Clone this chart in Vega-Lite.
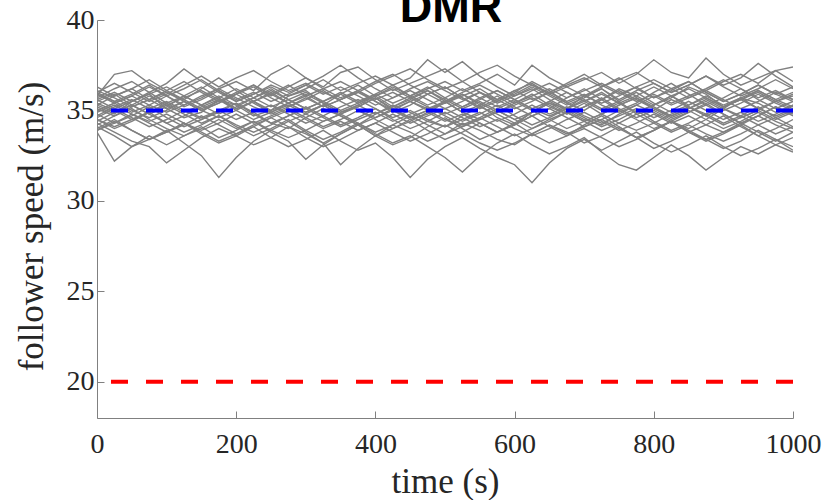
{
"$schema":"https://vega.github.io/schema/vega-lite/v6.json",
"width":696,"height":398,
"autosize":"none",
"padding":{"left":97,"top":20,"right":34,"bottom":82},
"title":{"text":"DMR","font":"Liberation Sans","fontSize":45,"fontWeight":"bold","color":"#000000","anchor":"middle","baseline":"alphabetic","frame":"group","offset":-61,"dx":6},
"config":{"view":{"stroke":null},
"axis":{"grid":false,"labelFont":"Liberation Serif","labelFontSize":28,"labelColor":"#262626","titleFont":"Liberation Serif","titleFontSize":35,"titleFontWeight":"normal","titleColor":"#262626","domainColor":"#808080","tickColor":"#808080","tickSize":-7,"domainWidth":1,"tickWidth":1}},
"datasets":{"runs":[
{"r":1,"t":0,"v":35.2},{"r":1,"t":25,"v":34.8},{"r":1,"t":50,"v":35.5},{"r":1,"t":75,"v":35.9},{"r":1,"t":100,"v":35.1},{"r":1,"t":125,"v":34.6},{"r":1,"t":150,"v":34.9},{"r":1,"t":175,"v":35.6},{"r":1,"t":200,"v":35.3},{"r":1,"t":225,"v":34.7},{"r":1,"t":250,"v":35.0},{"r":1,"t":275,"v":35.8},{"r":1,"t":300,"v":36.1},{"r":1,"t":325,"v":35.4},{"r":1,"t":350,"v":34.9},{"r":1,"t":375,"v":35.2},{"r":1,"t":400,"v":35.7},{"r":1,"t":425,"v":35.0},{"r":1,"t":450,"v":34.5},{"r":1,"t":475,"v":34.8},{"r":1,"t":500,"v":35.5},{"r":1,"t":525,"v":35.9},{"r":1,"t":550,"v":35.3},{"r":1,"t":575,"v":34.6},{"r":1,"t":600,"v":34.2},{"r":1,"t":625,"v":34.9},{"r":1,"t":650,"v":35.4},{"r":1,"t":675,"v":35.1},{"r":1,"t":700,"v":35.8},{"r":1,"t":725,"v":36.2},{"r":1,"t":750,"v":35.5},{"r":1,"t":775,"v":34.8},{"r":1,"t":800,"v":35.0},{"r":1,"t":825,"v":35.6},{"r":1,"t":850,"v":35.2},{"r":1,"t":875,"v":34.7},{"r":1,"t":900,"v":35.1},{"r":1,"t":925,"v":35.7},{"r":1,"t":950,"v":35.4},{"r":1,"t":975,"v":34.9},{"r":1,"t":1000,"v":35.3},
{"r":2,"t":0,"v":35.8},{"r":2,"t":25,"v":37.0},{"r":2,"t":50,"v":37.2},{"r":2,"t":75,"v":36.5},{"r":2,"t":100,"v":36.0},{"r":2,"t":125,"v":35.6},{"r":2,"t":150,"v":36.2},{"r":2,"t":175,"v":36.8},{"r":2,"t":200,"v":36.1},{"r":2,"t":225,"v":35.5},{"r":2,"t":250,"v":35.9},{"r":2,"t":275,"v":36.4},{"r":2,"t":300,"v":35.8},{"r":2,"t":325,"v":35.2},{"r":2,"t":350,"v":35.6},{"r":2,"t":375,"v":36.1},{"r":2,"t":400,"v":35.5},{"r":2,"t":425,"v":34.9},{"r":2,"t":450,"v":35.3},{"r":2,"t":475,"v":35.9},{"r":2,"t":500,"v":36.3},{"r":2,"t":525,"v":35.7},{"r":2,"t":550,"v":35.1},{"r":2,"t":575,"v":35.5},{"r":2,"t":600,"v":36.0},{"r":2,"t":625,"v":36.6},{"r":2,"t":650,"v":36.1},{"r":2,"t":675,"v":35.4},{"r":2,"t":700,"v":35.0},{"r":2,"t":725,"v":35.6},{"r":2,"t":750,"v":36.2},{"r":2,"t":775,"v":35.8},{"r":2,"t":800,"v":35.3},{"r":2,"t":825,"v":35.7},{"r":2,"t":850,"v":36.3},{"r":2,"t":875,"v":35.9},{"r":2,"t":900,"v":35.2},{"r":2,"t":925,"v":35.6},{"r":2,"t":950,"v":36.0},{"r":2,"t":975,"v":35.5},{"r":2,"t":1000,"v":35.8},
{"r":3,"t":0,"v":34.1},{"r":3,"t":25,"v":33.6},{"r":3,"t":50,"v":33.0},{"r":3,"t":75,"v":33.4},{"r":3,"t":100,"v":33.9},{"r":3,"t":125,"v":33.2},{"r":3,"t":150,"v":32.5},{"r":3,"t":175,"v":31.3},{"r":3,"t":200,"v":32.4},{"r":3,"t":225,"v":33.3},{"r":3,"t":250,"v":33.9},{"r":3,"t":275,"v":34.4},{"r":3,"t":300,"v":33.8},{"r":3,"t":325,"v":33.2},{"r":3,"t":350,"v":33.7},{"r":3,"t":375,"v":34.2},{"r":3,"t":400,"v":33.6},{"r":3,"t":425,"v":33.1},{"r":3,"t":450,"v":33.5},{"r":3,"t":475,"v":34.1},{"r":3,"t":500,"v":34.6},{"r":3,"t":525,"v":34.0},{"r":3,"t":550,"v":33.4},{"r":3,"t":575,"v":33.8},{"r":3,"t":600,"v":34.3},{"r":3,"t":625,"v":33.7},{"r":3,"t":650,"v":33.2},{"r":3,"t":675,"v":33.6},{"r":3,"t":700,"v":34.2},{"r":3,"t":725,"v":34.7},{"r":3,"t":750,"v":34.1},{"r":3,"t":775,"v":33.5},{"r":3,"t":800,"v":33.9},{"r":3,"t":825,"v":34.4},{"r":3,"t":850,"v":33.8},{"r":3,"t":875,"v":33.3},{"r":3,"t":900,"v":33.7},{"r":3,"t":925,"v":34.2},{"r":3,"t":950,"v":33.6},{"r":3,"t":975,"v":33.1},{"r":3,"t":1000,"v":33.5},
{"r":4,"t":0,"v":34.8},{"r":4,"t":25,"v":34.3},{"r":4,"t":50,"v":34.7},{"r":4,"t":75,"v":35.2},{"r":4,"t":100,"v":34.6},{"r":4,"t":125,"v":34.1},{"r":4,"t":150,"v":34.5},{"r":4,"t":175,"v":35.0},{"r":4,"t":200,"v":35.4},{"r":4,"t":225,"v":34.9},{"r":4,"t":250,"v":34.3},{"r":4,"t":275,"v":34.0},{"r":4,"t":300,"v":34.6},{"r":4,"t":325,"v":35.1},{"r":4,"t":350,"v":34.7},{"r":4,"t":375,"v":34.2},{"r":4,"t":400,"v":34.8},{"r":4,"t":425,"v":35.3},{"r":4,"t":450,"v":34.9},{"r":4,"t":475,"v":34.4},{"r":4,"t":500,"v":34.1},{"r":4,"t":525,"v":34.7},{"r":4,"t":550,"v":35.2},{"r":4,"t":575,"v":34.8},{"r":4,"t":600,"v":34.3},{"r":4,"t":625,"v":34.9},{"r":4,"t":650,"v":35.5},{"r":4,"t":675,"v":35.0},{"r":4,"t":700,"v":34.5},{"r":4,"t":725,"v":34.2},{"r":4,"t":750,"v":34.8},{"r":4,"t":775,"v":35.3},{"r":4,"t":800,"v":34.9},{"r":4,"t":825,"v":34.4},{"r":4,"t":850,"v":34.0},{"r":4,"t":875,"v":34.5},{"r":4,"t":900,"v":35.1},{"r":4,"t":925,"v":34.7},{"r":4,"t":950,"v":34.2},{"r":4,"t":975,"v":34.6},{"r":4,"t":1000,"v":35.0},
{"r":5,"t":0,"v":36.0},{"r":5,"t":25,"v":35.5},{"r":5,"t":50,"v":35.9},{"r":5,"t":75,"v":36.4},{"r":5,"t":100,"v":35.8},{"r":5,"t":125,"v":35.3},{"r":5,"t":150,"v":35.7},{"r":5,"t":175,"v":36.2},{"r":5,"t":200,"v":36.6},{"r":5,"t":225,"v":36.1},{"r":5,"t":250,"v":37.0},{"r":5,"t":275,"v":37.5},{"r":5,"t":300,"v":36.8},{"r":5,"t":325,"v":36.3},{"r":5,"t":350,"v":37.1},{"r":5,"t":375,"v":37.4},{"r":5,"t":400,"v":36.7},{"r":5,"t":425,"v":36.1},{"r":5,"t":450,"v":36.5},{"r":5,"t":475,"v":36.9},{"r":5,"t":500,"v":37.3},{"r":5,"t":525,"v":36.6},{"r":5,"t":550,"v":36.0},{"r":5,"t":575,"v":35.6},{"r":5,"t":600,"v":36.1},{"r":5,"t":625,"v":36.5},{"r":5,"t":650,"v":35.9},{"r":5,"t":675,"v":35.4},{"r":5,"t":700,"v":35.8},{"r":5,"t":725,"v":36.3},{"r":5,"t":750,"v":36.8},{"r":5,"t":775,"v":36.2},{"r":5,"t":800,"v":35.7},{"r":5,"t":825,"v":36.1},{"r":5,"t":850,"v":36.6},{"r":5,"t":875,"v":36.0},{"r":5,"t":900,"v":35.5},{"r":5,"t":925,"v":35.9},{"r":5,"t":950,"v":36.4},{"r":5,"t":975,"v":35.9},{"r":5,"t":1000,"v":36.3},
{"r":6,"t":0,"v":34.3},{"r":6,"t":25,"v":33.8},{"r":6,"t":50,"v":33.3},{"r":6,"t":75,"v":33.0},{"r":6,"t":100,"v":32.1},{"r":6,"t":125,"v":32.8},{"r":6,"t":150,"v":33.5},{"r":6,"t":175,"v":34.0},{"r":6,"t":200,"v":33.6},{"r":6,"t":225,"v":33.1},{"r":6,"t":250,"v":33.5},{"r":6,"t":275,"v":34.1},{"r":6,"t":300,"v":33.7},{"r":6,"t":325,"v":33.2},{"r":6,"t":350,"v":32.0},{"r":6,"t":375,"v":32.9},{"r":6,"t":400,"v":33.6},{"r":6,"t":425,"v":34.2},{"r":6,"t":450,"v":33.8},{"r":6,"t":475,"v":33.3},{"r":6,"t":500,"v":33.7},{"r":6,"t":525,"v":34.3},{"r":6,"t":550,"v":33.9},{"r":6,"t":575,"v":33.4},{"r":6,"t":600,"v":33.1},{"r":6,"t":625,"v":33.7},{"r":6,"t":650,"v":34.2},{"r":6,"t":675,"v":33.8},{"r":6,"t":700,"v":33.2},{"r":6,"t":725,"v":33.6},{"r":6,"t":750,"v":34.1},{"r":6,"t":775,"v":33.5},{"r":6,"t":800,"v":32.9},{"r":6,"t":825,"v":33.3},{"r":6,"t":850,"v":33.8},{"r":6,"t":875,"v":33.4},{"r":6,"t":900,"v":32.9},{"r":6,"t":925,"v":33.3},{"r":6,"t":950,"v":33.9},{"r":6,"t":975,"v":33.4},{"r":6,"t":1000,"v":33.0},
{"r":7,"t":0,"v":35.5},{"r":7,"t":25,"v":35.9},{"r":7,"t":50,"v":35.3},{"r":7,"t":75,"v":34.8},{"r":7,"t":100,"v":35.2},{"r":7,"t":125,"v":35.8},{"r":7,"t":150,"v":36.3},{"r":7,"t":175,"v":35.7},{"r":7,"t":200,"v":35.1},{"r":7,"t":225,"v":35.5},{"r":7,"t":250,"v":36.0},{"r":7,"t":275,"v":35.4},{"r":7,"t":300,"v":34.9},{"r":7,"t":325,"v":35.3},{"r":7,"t":350,"v":35.9},{"r":7,"t":375,"v":36.4},{"r":7,"t":400,"v":35.8},{"r":7,"t":425,"v":35.2},{"r":7,"t":450,"v":35.6},{"r":7,"t":475,"v":36.1},{"r":7,"t":500,"v":35.5},{"r":7,"t":525,"v":34.9},{"r":7,"t":550,"v":35.3},{"r":7,"t":575,"v":35.8},{"r":7,"t":600,"v":35.2},{"r":7,"t":625,"v":34.7},{"r":7,"t":650,"v":35.1},{"r":7,"t":675,"v":35.7},{"r":7,"t":700,"v":36.2},{"r":7,"t":725,"v":35.6},{"r":7,"t":750,"v":35.0},{"r":7,"t":775,"v":35.4},{"r":7,"t":800,"v":36.0},{"r":7,"t":825,"v":36.5},{"r":7,"t":850,"v":35.9},{"r":7,"t":875,"v":35.3},{"r":7,"t":900,"v":35.7},{"r":7,"t":925,"v":36.2},{"r":7,"t":950,"v":35.6},{"r":7,"t":975,"v":35.1},{"r":7,"t":1000,"v":35.5},
{"r":8,"t":0,"v":35.0},{"r":8,"t":25,"v":35.4},{"r":8,"t":50,"v":34.9},{"r":8,"t":75,"v":35.3},{"r":8,"t":100,"v":35.8},{"r":8,"t":125,"v":35.2},{"r":8,"t":150,"v":35.6},{"r":8,"t":175,"v":36.1},{"r":8,"t":200,"v":35.5},{"r":8,"t":225,"v":35.9},{"r":8,"t":250,"v":36.3},{"r":8,"t":275,"v":35.8},{"r":8,"t":300,"v":36.2},{"r":8,"t":325,"v":36.7},{"r":8,"t":350,"v":36.1},{"r":8,"t":375,"v":36.5},{"r":8,"t":400,"v":36.9},{"r":8,"t":425,"v":36.4},{"r":8,"t":450,"v":36.8},{"r":8,"t":475,"v":37.8},{"r":8,"t":500,"v":37.1},{"r":8,"t":525,"v":37.7},{"r":8,"t":550,"v":36.9},{"r":8,"t":575,"v":36.3},{"r":8,"t":600,"v":35.8},{"r":8,"t":625,"v":36.2},{"r":8,"t":650,"v":35.6},{"r":8,"t":675,"v":35.1},{"r":8,"t":700,"v":35.5},{"r":8,"t":725,"v":36.0},{"r":8,"t":750,"v":35.4},{"r":8,"t":775,"v":34.9},{"r":8,"t":800,"v":35.3},{"r":8,"t":825,"v":35.8},{"r":8,"t":850,"v":35.2},{"r":8,"t":875,"v":34.8},{"r":8,"t":900,"v":35.2},{"r":8,"t":925,"v":35.7},{"r":8,"t":950,"v":35.1},{"r":8,"t":975,"v":34.7},{"r":8,"t":1000,"v":35.1},
{"r":9,"t":0,"v":34.0},{"r":9,"t":25,"v":34.5},{"r":9,"t":50,"v":33.9},{"r":9,"t":75,"v":33.4},{"r":9,"t":100,"v":33.8},{"r":9,"t":125,"v":34.3},{"r":9,"t":150,"v":33.7},{"r":9,"t":175,"v":33.2},{"r":9,"t":200,"v":33.6},{"r":9,"t":225,"v":34.1},{"r":9,"t":250,"v":33.5},{"r":9,"t":275,"v":33.0},{"r":9,"t":300,"v":33.4},{"r":9,"t":325,"v":33.9},{"r":9,"t":350,"v":33.3},{"r":9,"t":375,"v":32.8},{"r":9,"t":400,"v":33.2},{"r":9,"t":425,"v":32.4},{"r":9,"t":450,"v":31.3},{"r":9,"t":475,"v":32.3},{"r":9,"t":500,"v":33.0},{"r":9,"t":525,"v":33.5},{"r":9,"t":550,"v":32.9},{"r":9,"t":575,"v":32.4},{"r":9,"t":600,"v":32.0},{"r":9,"t":625,"v":31.0},{"r":9,"t":650,"v":32.1},{"r":9,"t":675,"v":32.9},{"r":9,"t":700,"v":33.4},{"r":9,"t":725,"v":32.8},{"r":9,"t":750,"v":33.3},{"r":9,"t":775,"v":33.8},{"r":9,"t":800,"v":33.2},{"r":9,"t":825,"v":32.7},{"r":9,"t":850,"v":33.1},{"r":9,"t":875,"v":33.6},{"r":9,"t":900,"v":33.0},{"r":9,"t":925,"v":32.5},{"r":9,"t":950,"v":32.9},{"r":9,"t":975,"v":33.4},{"r":9,"t":1000,"v":32.8},
{"r":10,"t":0,"v":35.6},{"r":10,"t":25,"v":35.1},{"r":10,"t":50,"v":35.5},{"r":10,"t":75,"v":36.0},{"r":10,"t":100,"v":35.4},{"r":10,"t":125,"v":34.9},{"r":10,"t":150,"v":35.3},{"r":10,"t":175,"v":35.8},{"r":10,"t":200,"v":35.3},{"r":10,"t":225,"v":35.7},{"r":10,"t":250,"v":36.2},{"r":10,"t":275,"v":35.6},{"r":10,"t":300,"v":35.1},{"r":10,"t":325,"v":35.5},{"r":10,"t":350,"v":36.0},{"r":10,"t":375,"v":35.5},{"r":10,"t":400,"v":35.9},{"r":10,"t":425,"v":36.4},{"r":10,"t":450,"v":35.8},{"r":10,"t":475,"v":36.2},{"r":10,"t":500,"v":36.6},{"r":10,"t":525,"v":36.1},{"r":10,"t":550,"v":36.5},{"r":10,"t":575,"v":37.0},{"r":10,"t":600,"v":36.4},{"r":10,"t":625,"v":37.5},{"r":10,"t":650,"v":36.8},{"r":10,"t":675,"v":36.3},{"r":10,"t":700,"v":36.7},{"r":10,"t":725,"v":37.1},{"r":10,"t":750,"v":36.5},{"r":10,"t":775,"v":37.0},{"r":10,"t":800,"v":37.8},{"r":10,"t":825,"v":37.1},{"r":10,"t":850,"v":36.8},{"r":10,"t":875,"v":37.9},{"r":10,"t":900,"v":37.0},{"r":10,"t":925,"v":36.4},{"r":10,"t":950,"v":36.8},{"r":10,"t":975,"v":37.2},{"r":10,"t":1000,"v":36.6},
{"r":11,"t":0,"v":34.5},{"r":11,"t":25,"v":34.0},{"r":11,"t":50,"v":34.4},{"r":11,"t":75,"v":34.9},{"r":11,"t":100,"v":34.3},{"r":11,"t":125,"v":33.8},{"r":11,"t":150,"v":34.2},{"r":11,"t":175,"v":34.7},{"r":11,"t":200,"v":34.1},{"r":11,"t":225,"v":33.6},{"r":11,"t":250,"v":34.0},{"r":11,"t":275,"v":34.5},{"r":11,"t":300,"v":33.9},{"r":11,"t":325,"v":33.4},{"r":11,"t":350,"v":33.8},{"r":11,"t":375,"v":34.3},{"r":11,"t":400,"v":33.7},{"r":11,"t":425,"v":33.2},{"r":11,"t":450,"v":33.6},{"r":11,"t":475,"v":33.0},{"r":11,"t":500,"v":32.4},{"r":11,"t":525,"v":31.6},{"r":11,"t":550,"v":32.5},{"r":11,"t":575,"v":33.2},{"r":11,"t":600,"v":33.7},{"r":11,"t":625,"v":33.1},{"r":11,"t":650,"v":32.6},{"r":11,"t":675,"v":33.0},{"r":11,"t":700,"v":33.5},{"r":11,"t":725,"v":32.7},{"r":11,"t":750,"v":32.0},{"r":11,"t":775,"v":31.7},{"r":11,"t":800,"v":32.4},{"r":11,"t":825,"v":33.1},{"r":11,"t":850,"v":32.5},{"r":11,"t":875,"v":31.7},{"r":11,"t":900,"v":32.4},{"r":11,"t":925,"v":33.0},{"r":11,"t":950,"v":32.6},{"r":11,"t":975,"v":33.1},{"r":11,"t":1000,"v":32.7},
{"r":12,"t":0,"v":35.3},{"r":12,"t":25,"v":35.8},{"r":12,"t":50,"v":36.2},{"r":12,"t":75,"v":35.6},{"r":12,"t":100,"v":35.1},{"r":12,"t":125,"v":35.5},{"r":12,"t":150,"v":35.0},{"r":12,"t":175,"v":34.6},{"r":12,"t":200,"v":35.0},{"r":12,"t":225,"v":35.5},{"r":12,"t":250,"v":34.9},{"r":12,"t":275,"v":34.4},{"r":12,"t":300,"v":34.8},{"r":12,"t":325,"v":35.3},{"r":12,"t":350,"v":34.8},{"r":12,"t":375,"v":35.2},{"r":12,"t":400,"v":35.7},{"r":12,"t":425,"v":35.1},{"r":12,"t":450,"v":34.6},{"r":12,"t":475,"v":35.0},{"r":12,"t":500,"v":35.5},{"r":12,"t":525,"v":34.9},{"r":12,"t":550,"v":34.5},{"r":12,"t":575,"v":34.9},{"r":12,"t":600,"v":35.4},{"r":12,"t":625,"v":35.9},{"r":12,"t":650,"v":35.3},{"r":12,"t":675,"v":34.8},{"r":12,"t":700,"v":35.2},{"r":12,"t":725,"v":35.7},{"r":12,"t":750,"v":35.1},{"r":12,"t":775,"v":34.6},{"r":12,"t":800,"v":35.0},{"r":12,"t":825,"v":34.5},{"r":12,"t":850,"v":34.9},{"r":12,"t":875,"v":35.4},{"r":12,"t":900,"v":34.8},{"r":12,"t":925,"v":34.3},{"r":12,"t":950,"v":34.7},{"r":12,"t":975,"v":35.2},{"r":12,"t":1000,"v":34.8},
{"r":13,"t":0,"v":36.3},{"r":13,"t":25,"v":35.8},{"r":13,"t":50,"v":36.2},{"r":13,"t":75,"v":36.7},{"r":13,"t":100,"v":36.1},{"r":13,"t":125,"v":36.6},{"r":13,"t":150,"v":36.0},{"r":13,"t":175,"v":35.5},{"r":13,"t":200,"v":35.9},{"r":13,"t":225,"v":36.4},{"r":13,"t":250,"v":35.8},{"r":13,"t":275,"v":36.3},{"r":13,"t":300,"v":36.8},{"r":13,"t":325,"v":36.2},{"r":13,"t":350,"v":35.7},{"r":13,"t":375,"v":36.1},{"r":13,"t":400,"v":36.6},{"r":13,"t":425,"v":37.0},{"r":13,"t":450,"v":36.4},{"r":13,"t":475,"v":35.9},{"r":13,"t":500,"v":36.3},{"r":13,"t":525,"v":35.7},{"r":13,"t":550,"v":35.2},{"r":13,"t":575,"v":35.6},{"r":13,"t":600,"v":36.1},{"r":13,"t":625,"v":35.6},{"r":13,"t":650,"v":36.0},{"r":13,"t":675,"v":36.5},{"r":13,"t":700,"v":37.0},{"r":13,"t":725,"v":36.4},{"r":13,"t":750,"v":35.9},{"r":13,"t":775,"v":36.3},{"r":13,"t":800,"v":36.7},{"r":13,"t":825,"v":36.2},{"r":13,"t":850,"v":35.7},{"r":13,"t":875,"v":36.1},{"r":13,"t":900,"v":36.6},{"r":13,"t":925,"v":37.0},{"r":13,"t":950,"v":36.5},{"r":13,"t":975,"v":37.2},{"r":13,"t":1000,"v":37.4},
{"r":14,"t":0,"v":34.6},{"r":14,"t":25,"v":35.1},{"r":14,"t":50,"v":34.6},{"r":14,"t":75,"v":34.1},{"r":14,"t":100,"v":34.5},{"r":14,"t":125,"v":35.0},{"r":14,"t":150,"v":34.5},{"r":14,"t":175,"v":34.9},{"r":14,"t":200,"v":35.4},{"r":14,"t":225,"v":34.8},{"r":14,"t":250,"v":34.3},{"r":14,"t":275,"v":34.7},{"r":14,"t":300,"v":35.2},{"r":14,"t":325,"v":34.7},{"r":14,"t":350,"v":34.2},{"r":14,"t":375,"v":34.6},{"r":14,"t":400,"v":35.1},{"r":14,"t":425,"v":34.5},{"r":14,"t":450,"v":34.0},{"r":14,"t":475,"v":34.4},{"r":14,"t":500,"v":34.9},{"r":14,"t":525,"v":34.4},{"r":14,"t":550,"v":34.8},{"r":14,"t":575,"v":35.3},{"r":14,"t":600,"v":34.7},{"r":14,"t":625,"v":34.2},{"r":14,"t":650,"v":34.6},{"r":14,"t":675,"v":35.1},{"r":14,"t":700,"v":34.6},{"r":14,"t":725,"v":34.1},{"r":14,"t":750,"v":34.5},{"r":14,"t":775,"v":35.0},{"r":14,"t":800,"v":34.4},{"r":14,"t":825,"v":33.9},{"r":14,"t":850,"v":34.3},{"r":14,"t":875,"v":34.8},{"r":14,"t":900,"v":34.3},{"r":14,"t":925,"v":34.7},{"r":14,"t":950,"v":35.2},{"r":14,"t":975,"v":34.6},{"r":14,"t":1000,"v":34.1},
{"r":15,"t":0,"v":35.7},{"r":15,"t":25,"v":36.2},{"r":15,"t":50,"v":36.6},{"r":15,"t":75,"v":36.0},{"r":15,"t":100,"v":36.5},{"r":15,"t":125,"v":37.3},{"r":15,"t":150,"v":36.6},{"r":15,"t":175,"v":36.0},{"r":15,"t":200,"v":35.5},{"r":15,"t":225,"v":35.9},{"r":15,"t":250,"v":36.4},{"r":15,"t":275,"v":36.0},{"r":15,"t":300,"v":36.4},{"r":15,"t":325,"v":36.9},{"r":15,"t":350,"v":37.5},{"r":15,"t":375,"v":36.8},{"r":15,"t":400,"v":36.2},{"r":15,"t":425,"v":35.7},{"r":15,"t":450,"v":36.1},{"r":15,"t":475,"v":35.6},{"r":15,"t":500,"v":35.1},{"r":15,"t":525,"v":35.5},{"r":15,"t":550,"v":36.0},{"r":15,"t":575,"v":35.4},{"r":15,"t":600,"v":35.8},{"r":15,"t":625,"v":36.3},{"r":15,"t":650,"v":35.8},{"r":15,"t":675,"v":35.3},{"r":15,"t":700,"v":35.7},{"r":15,"t":725,"v":36.2},{"r":15,"t":750,"v":35.6},{"r":15,"t":775,"v":36.1},{"r":15,"t":800,"v":36.5},{"r":15,"t":825,"v":36.0},{"r":15,"t":850,"v":36.4},{"r":15,"t":875,"v":36.9},{"r":15,"t":900,"v":36.4},{"r":15,"t":925,"v":36.8},{"r":15,"t":950,"v":37.6},{"r":15,"t":975,"v":36.9},{"r":15,"t":1000,"v":36.3},
{"r":16,"t":0,"v":33.8},{"r":16,"t":25,"v":32.2},{"r":16,"t":50,"v":33.0},{"r":16,"t":75,"v":33.6},{"r":16,"t":100,"v":33.1},{"r":16,"t":125,"v":33.6},{"r":16,"t":150,"v":34.1},{"r":16,"t":175,"v":33.5},{"r":16,"t":200,"v":33.9},{"r":16,"t":225,"v":34.4},{"r":16,"t":250,"v":33.8},{"r":16,"t":275,"v":33.3},{"r":16,"t":300,"v":32.3},{"r":16,"t":325,"v":33.1},{"r":16,"t":350,"v":33.7},{"r":16,"t":375,"v":34.2},{"r":16,"t":400,"v":33.6},{"r":16,"t":425,"v":34.0},{"r":16,"t":450,"v":34.5},{"r":16,"t":475,"v":33.9},{"r":16,"t":500,"v":33.4},{"r":16,"t":525,"v":33.8},{"r":16,"t":550,"v":34.3},{"r":16,"t":575,"v":33.8},{"r":16,"t":600,"v":34.2},{"r":16,"t":625,"v":34.7},{"r":16,"t":650,"v":34.1},{"r":16,"t":675,"v":33.6},{"r":16,"t":700,"v":34.0},{"r":16,"t":725,"v":33.5},{"r":16,"t":750,"v":33.0},{"r":16,"t":775,"v":33.4},{"r":16,"t":800,"v":33.9},{"r":16,"t":825,"v":34.4},{"r":16,"t":850,"v":33.8},{"r":16,"t":875,"v":34.2},{"r":16,"t":900,"v":34.7},{"r":16,"t":925,"v":34.1},{"r":16,"t":950,"v":33.6},{"r":16,"t":975,"v":34.0},{"r":16,"t":1000,"v":34.5},
{"r":17,"t":0,"v":35.1},{"r":17,"t":25,"v":34.7},{"r":17,"t":50,"v":35.2},{"r":17,"t":75,"v":35.6},{"r":17,"t":100,"v":36.0},{"r":17,"t":125,"v":35.5},{"r":17,"t":150,"v":35.0},{"r":17,"t":175,"v":35.4},{"r":17,"t":200,"v":35.9},{"r":17,"t":225,"v":36.3},{"r":17,"t":250,"v":35.7},{"r":17,"t":275,"v":35.2},{"r":17,"t":300,"v":35.6},{"r":17,"t":325,"v":36.1},{"r":17,"t":350,"v":35.5},{"r":17,"t":375,"v":35.0},{"r":17,"t":400,"v":34.6},{"r":17,"t":425,"v":35.0},{"r":17,"t":450,"v":35.5},{"r":17,"t":475,"v":35.9},{"r":17,"t":500,"v":35.4},{"r":17,"t":525,"v":35.8},{"r":17,"t":550,"v":36.2},{"r":17,"t":575,"v":35.6},{"r":17,"t":600,"v":35.1},{"r":17,"t":625,"v":35.5},{"r":17,"t":650,"v":36.0},{"r":17,"t":675,"v":35.5},{"r":17,"t":700,"v":35.9},{"r":17,"t":725,"v":35.3},{"r":17,"t":750,"v":34.9},{"r":17,"t":775,"v":35.3},{"r":17,"t":800,"v":35.8},{"r":17,"t":825,"v":35.3},{"r":17,"t":850,"v":35.7},{"r":17,"t":875,"v":36.1},{"r":17,"t":900,"v":35.6},{"r":17,"t":925,"v":35.1},{"r":17,"t":950,"v":35.5},{"r":17,"t":975,"v":36.0},{"r":17,"t":1000,"v":35.6},
{"r":18,"t":0,"v":34.4},{"r":18,"t":25,"v":34.9},{"r":18,"t":50,"v":35.3},{"r":18,"t":75,"v":34.8},{"r":18,"t":100,"v":34.3},{"r":18,"t":125,"v":34.7},{"r":18,"t":150,"v":35.2},{"r":18,"t":175,"v":35.6},{"r":18,"t":200,"v":35.0},{"r":18,"t":225,"v":34.5},{"r":18,"t":250,"v":34.9},{"r":18,"t":275,"v":35.4},{"r":18,"t":300,"v":34.9},{"r":18,"t":325,"v":35.3},{"r":18,"t":350,"v":34.7},{"r":18,"t":375,"v":34.2},{"r":18,"t":400,"v":34.6},{"r":18,"t":425,"v":35.1},{"r":18,"t":450,"v":35.5},{"r":18,"t":475,"v":35.0},{"r":18,"t":500,"v":34.5},{"r":18,"t":525,"v":34.1},{"r":18,"t":550,"v":34.5},{"r":18,"t":575,"v":35.0},{"r":18,"t":600,"v":34.5},{"r":18,"t":625,"v":34.0},{"r":18,"t":650,"v":34.4},{"r":18,"t":675,"v":34.9},{"r":18,"t":700,"v":35.4},{"r":18,"t":725,"v":34.8},{"r":18,"t":750,"v":35.3},{"r":18,"t":775,"v":35.7},{"r":18,"t":800,"v":35.1},{"r":18,"t":825,"v":34.6},{"r":18,"t":850,"v":35.0},{"r":18,"t":875,"v":34.5},{"r":18,"t":900,"v":34.0},{"r":18,"t":925,"v":34.4},{"r":18,"t":950,"v":34.9},{"r":18,"t":975,"v":34.4},{"r":18,"t":1000,"v":34.0},
{"r":19,"t":0,"v":36.0},{"r":19,"t":25,"v":36.5},{"r":19,"t":50,"v":36.0},{"r":19,"t":75,"v":35.5},{"r":19,"t":100,"v":35.9},{"r":19,"t":125,"v":36.4},{"r":19,"t":150,"v":36.9},{"r":19,"t":175,"v":36.3},{"r":19,"t":200,"v":36.8},{"r":19,"t":225,"v":37.2},{"r":19,"t":250,"v":36.6},{"r":19,"t":275,"v":36.1},{"r":19,"t":300,"v":36.5},{"r":19,"t":325,"v":36.0},{"r":19,"t":350,"v":35.6},{"r":19,"t":375,"v":36.0},{"r":19,"t":400,"v":36.5},{"r":19,"t":425,"v":36.9},{"r":19,"t":450,"v":37.3},{"r":19,"t":475,"v":36.7},{"r":19,"t":500,"v":36.2},{"r":19,"t":525,"v":36.6},{"r":19,"t":550,"v":37.1},{"r":19,"t":575,"v":37.5},{"r":19,"t":600,"v":36.9},{"r":19,"t":625,"v":36.4},{"r":19,"t":650,"v":36.0},{"r":19,"t":675,"v":36.4},{"r":19,"t":700,"v":36.8},{"r":19,"t":725,"v":36.3},{"r":19,"t":750,"v":36.7},{"r":19,"t":775,"v":37.1},{"r":19,"t":800,"v":36.5},{"r":19,"t":825,"v":36.0},{"r":19,"t":850,"v":36.4},{"r":19,"t":875,"v":36.9},{"r":19,"t":900,"v":36.3},{"r":19,"t":925,"v":35.8},{"r":19,"t":950,"v":36.2},{"r":19,"t":975,"v":36.7},{"r":19,"t":1000,"v":36.2},
{"r":20,"t":0,"v":33.9},{"r":20,"t":25,"v":34.4},{"r":20,"t":50,"v":33.9},{"r":20,"t":75,"v":33.4},{"r":20,"t":100,"v":33.8},{"r":20,"t":125,"v":34.3},{"r":20,"t":150,"v":33.8},{"r":20,"t":175,"v":33.3},{"r":20,"t":200,"v":33.7},{"r":20,"t":225,"v":34.2},{"r":20,"t":250,"v":34.6},{"r":20,"t":275,"v":34.1},{"r":20,"t":300,"v":33.5},{"r":20,"t":325,"v":33.0},{"r":20,"t":350,"v":33.4},{"r":20,"t":375,"v":33.9},{"r":20,"t":400,"v":34.3},{"r":20,"t":425,"v":33.8},{"r":20,"t":450,"v":33.3},{"r":20,"t":475,"v":33.7},{"r":20,"t":500,"v":34.2},{"r":20,"t":525,"v":33.7},{"r":20,"t":550,"v":33.2},{"r":20,"t":575,"v":32.8},{"r":20,"t":600,"v":33.2},{"r":20,"t":625,"v":33.7},{"r":20,"t":650,"v":34.2},{"r":20,"t":675,"v":33.7},{"r":20,"t":700,"v":34.1},{"r":20,"t":725,"v":34.5},{"r":20,"t":750,"v":34.0},{"r":20,"t":775,"v":33.5},{"r":20,"t":800,"v":33.9},{"r":20,"t":825,"v":34.4},{"r":20,"t":850,"v":33.9},{"r":20,"t":875,"v":33.4},{"r":20,"t":900,"v":33.8},{"r":20,"t":925,"v":34.3},{"r":20,"t":950,"v":33.8},{"r":20,"t":975,"v":33.3},{"r":20,"t":1000,"v":33.8},
{"r":21,"t":0,"v":35.4},{"r":21,"t":25,"v":35.0},{"r":21,"t":50,"v":34.5},{"r":21,"t":75,"v":34.9},{"r":21,"t":100,"v":35.4},{"r":21,"t":125,"v":35.8},{"r":21,"t":150,"v":35.3},{"r":21,"t":175,"v":34.8},{"r":21,"t":200,"v":35.2},{"r":21,"t":225,"v":35.7},{"r":21,"t":250,"v":35.2},{"r":21,"t":275,"v":35.6},{"r":21,"t":300,"v":36.0},{"r":21,"t":325,"v":35.5},{"r":21,"t":350,"v":35.0},{"r":21,"t":375,"v":35.4},{"r":21,"t":400,"v":35.9},{"r":21,"t":425,"v":35.4},{"r":21,"t":450,"v":35.8},{"r":21,"t":475,"v":36.3},{"r":21,"t":500,"v":35.7},{"r":21,"t":525,"v":35.2},{"r":21,"t":550,"v":35.6},{"r":21,"t":575,"v":36.1},{"r":21,"t":600,"v":35.6},{"r":21,"t":625,"v":35.1},{"r":21,"t":650,"v":34.7},{"r":21,"t":675,"v":35.1},{"r":21,"t":700,"v":35.6},{"r":21,"t":725,"v":35.1},{"r":21,"t":750,"v":35.5},{"r":21,"t":775,"v":36.0},{"r":21,"t":800,"v":35.4},{"r":21,"t":825,"v":34.9},{"r":21,"t":850,"v":35.3},{"r":21,"t":875,"v":35.8},{"r":21,"t":900,"v":35.3},{"r":21,"t":925,"v":35.7},{"r":21,"t":950,"v":36.1},{"r":21,"t":975,"v":35.6},{"r":21,"t":1000,"v":35.2},
{"r":22,"t":0,"v":34.9},{"r":22,"t":25,"v":35.3},{"r":22,"t":50,"v":34.8},{"r":22,"t":75,"v":34.4},{"r":22,"t":100,"v":34.8},{"r":22,"t":125,"v":34.3},{"r":22,"t":150,"v":33.9},{"r":22,"t":175,"v":34.3},{"r":22,"t":200,"v":34.8},{"r":22,"t":225,"v":34.3},{"r":22,"t":250,"v":34.7},{"r":22,"t":275,"v":35.1},{"r":22,"t":300,"v":34.6},{"r":22,"t":325,"v":34.1},{"r":22,"t":350,"v":34.5},{"r":22,"t":375,"v":35.0},{"r":22,"t":400,"v":34.5},{"r":22,"t":425,"v":34.0},{"r":22,"t":450,"v":34.4},{"r":22,"t":475,"v":34.9},{"r":22,"t":500,"v":34.4},{"r":22,"t":525,"v":34.8},{"r":22,"t":550,"v":34.3},{"r":22,"t":575,"v":33.8},{"r":22,"t":600,"v":34.2},{"r":22,"t":625,"v":34.7},{"r":22,"t":650,"v":35.1},{"r":22,"t":675,"v":34.6},{"r":22,"t":700,"v":34.1},{"r":22,"t":725,"v":34.5},{"r":22,"t":750,"v":35.0},{"r":22,"t":775,"v":34.5},{"r":22,"t":800,"v":34.0},{"r":22,"t":825,"v":34.4},{"r":22,"t":850,"v":34.9},{"r":22,"t":875,"v":35.3},{"r":22,"t":900,"v":34.8},{"r":22,"t":925,"v":34.3},{"r":22,"t":950,"v":34.7},{"r":22,"t":975,"v":35.2},{"r":22,"t":1000,"v":34.7},
{"r":23,"t":0,"v":35.9},{"r":23,"t":25,"v":35.4},{"r":23,"t":50,"v":35.8},{"r":23,"t":75,"v":36.3},{"r":23,"t":100,"v":35.8},{"r":23,"t":125,"v":36.2},{"r":23,"t":150,"v":36.7},{"r":23,"t":175,"v":36.1},{"r":23,"t":200,"v":35.6},{"r":23,"t":225,"v":36.0},{"r":23,"t":250,"v":35.5},{"r":23,"t":275,"v":35.9},{"r":23,"t":300,"v":36.4},{"r":23,"t":325,"v":35.9},{"r":23,"t":350,"v":36.3},{"r":23,"t":375,"v":35.8},{"r":23,"t":400,"v":35.3},{"r":23,"t":425,"v":35.7},{"r":23,"t":450,"v":36.2},{"r":23,"t":475,"v":36.6},{"r":23,"t":500,"v":36.1},{"r":23,"t":525,"v":35.6},{"r":23,"t":550,"v":36.0},{"r":23,"t":575,"v":35.5},{"r":23,"t":600,"v":35.9},{"r":23,"t":625,"v":36.4},{"r":23,"t":650,"v":35.9},{"r":23,"t":675,"v":36.3},{"r":23,"t":700,"v":35.8},{"r":23,"t":725,"v":35.4},{"r":23,"t":750,"v":35.8},{"r":23,"t":775,"v":36.3},{"r":23,"t":800,"v":35.7},{"r":23,"t":825,"v":36.2},{"r":23,"t":850,"v":36.6},{"r":23,"t":875,"v":36.0},{"r":23,"t":900,"v":35.5},{"r":23,"t":925,"v":35.9},{"r":23,"t":950,"v":36.4},{"r":23,"t":975,"v":35.9},{"r":23,"t":1000,"v":35.5},
{"r":24,"t":0,"v":34.2},{"r":24,"t":25,"v":34.7},{"r":24,"t":50,"v":35.1},{"r":24,"t":75,"v":34.5},{"r":24,"t":100,"v":34.0},{"r":24,"t":125,"v":33.6},{"r":24,"t":150,"v":34.0},{"r":24,"t":175,"v":34.5},{"r":24,"t":200,"v":34.0},{"r":24,"t":225,"v":34.4},{"r":24,"t":250,"v":33.9},{"r":24,"t":275,"v":33.5},{"r":24,"t":300,"v":33.9},{"r":24,"t":325,"v":34.4},{"r":24,"t":350,"v":34.8},{"r":24,"t":375,"v":34.3},{"r":24,"t":400,"v":33.8},{"r":24,"t":425,"v":34.2},{"r":24,"t":450,"v":34.7},{"r":24,"t":475,"v":34.2},{"r":24,"t":500,"v":33.7},{"r":24,"t":525,"v":34.1},{"r":24,"t":550,"v":34.6},{"r":24,"t":575,"v":34.1},{"r":24,"t":600,"v":33.6},{"r":24,"t":625,"v":34.0},{"r":24,"t":650,"v":34.5},{"r":24,"t":675,"v":34.9},{"r":24,"t":700,"v":34.4},{"r":24,"t":725,"v":33.9},{"r":24,"t":750,"v":34.3},{"r":24,"t":775,"v":34.8},{"r":24,"t":800,"v":34.3},{"r":24,"t":825,"v":33.8},{"r":24,"t":850,"v":34.2},{"r":24,"t":875,"v":33.7},{"r":24,"t":900,"v":33.3},{"r":24,"t":925,"v":33.7},{"r":24,"t":950,"v":34.2},{"r":24,"t":975,"v":33.7},{"r":24,"t":1000,"v":34.1},
{"r":25,"t":0,"v":35.0},{"r":25,"t":25,"v":35.4},{"r":25,"t":50,"v":35.8},{"r":25,"t":75,"v":35.3},{"r":25,"t":100,"v":34.9},{"r":25,"t":125,"v":35.3},{"r":25,"t":150,"v":35.8},{"r":25,"t":175,"v":36.2},{"r":25,"t":200,"v":35.7},{"r":25,"t":225,"v":35.2},{"r":25,"t":250,"v":34.8},{"r":25,"t":275,"v":35.2},{"r":25,"t":300,"v":35.7},{"r":25,"t":325,"v":35.2},{"r":25,"t":350,"v":35.6},{"r":25,"t":375,"v":36.0},{"r":25,"t":400,"v":35.5},{"r":25,"t":425,"v":35.0},{"r":25,"t":450,"v":34.6},{"r":25,"t":475,"v":35.0},{"r":25,"t":500,"v":35.4},{"r":25,"t":525,"v":35.9},{"r":25,"t":550,"v":35.4},{"r":25,"t":575,"v":34.9},{"r":25,"t":600,"v":35.3},{"r":25,"t":625,"v":35.7},{"r":25,"t":650,"v":35.2},{"r":25,"t":675,"v":34.8},{"r":25,"t":700,"v":35.2},{"r":25,"t":725,"v":35.6},{"r":25,"t":750,"v":36.1},{"r":25,"t":775,"v":35.6},{"r":25,"t":800,"v":35.1},{"r":25,"t":825,"v":34.7},{"r":25,"t":850,"v":35.1},{"r":25,"t":875,"v":35.5},{"r":25,"t":900,"v":35.0},{"r":25,"t":925,"v":35.4},{"r":25,"t":950,"v":35.9},{"r":25,"t":975,"v":35.4},{"r":25,"t":1000,"v":35.0},
{"r":26,"t":0,"v":34.5},{"r":26,"t":25,"v":34.1},{"r":26,"t":50,"v":34.5},{"r":26,"t":75,"v":34.9},{"r":26,"t":100,"v":35.3},{"r":26,"t":125,"v":34.8},{"r":26,"t":150,"v":34.3},{"r":26,"t":175,"v":34.7},{"r":26,"t":200,"v":34.2},{"r":26,"t":225,"v":33.8},{"r":26,"t":250,"v":34.2},{"r":26,"t":275,"v":34.7},{"r":26,"t":300,"v":35.1},{"r":26,"t":325,"v":34.6},{"r":26,"t":350,"v":34.1},{"r":26,"t":375,"v":34.5},{"r":26,"t":400,"v":34.9},{"r":26,"t":425,"v":34.4},{"r":26,"t":450,"v":34.8},{"r":26,"t":475,"v":35.2},{"r":26,"t":500,"v":34.7},{"r":26,"t":525,"v":34.2},{"r":26,"t":550,"v":34.6},{"r":26,"t":575,"v":35.1},{"r":26,"t":600,"v":35.5},{"r":26,"t":625,"v":35.0},{"r":26,"t":650,"v":34.5},{"r":26,"t":675,"v":34.0},{"r":26,"t":700,"v":34.4},{"r":26,"t":725,"v":34.8},{"r":26,"t":750,"v":34.3},{"r":26,"t":775,"v":33.9},{"r":26,"t":800,"v":34.3},{"r":26,"t":825,"v":34.8},{"r":26,"t":850,"v":35.2},{"r":26,"t":875,"v":34.7},{"r":26,"t":900,"v":34.2},{"r":26,"t":925,"v":34.6},{"r":26,"t":950,"v":35.0},{"r":26,"t":975,"v":34.5},{"r":26,"t":1000,"v":34.9},
{"r":27,"t":0,"v":36.1},{"r":27,"t":25,"v":35.7},{"r":27,"t":50,"v":35.2},{"r":27,"t":75,"v":35.6},{"r":27,"t":100,"v":36.1},{"r":27,"t":125,"v":35.6},{"r":27,"t":150,"v":35.1},{"r":27,"t":175,"v":35.5},{"r":27,"t":200,"v":36.0},{"r":27,"t":225,"v":36.4},{"r":27,"t":250,"v":35.9},{"r":27,"t":275,"v":35.4},{"r":27,"t":300,"v":35.8},{"r":27,"t":325,"v":36.2},{"r":27,"t":350,"v":36.6},{"r":27,"t":375,"v":36.1},{"r":27,"t":400,"v":35.6},{"r":27,"t":425,"v":36.0},{"r":27,"t":450,"v":35.5},{"r":27,"t":475,"v":35.1},{"r":27,"t":500,"v":35.5},{"r":27,"t":525,"v":36.0},{"r":27,"t":550,"v":36.4},{"r":27,"t":575,"v":35.9},{"r":27,"t":600,"v":35.4},{"r":27,"t":625,"v":35.8},{"r":27,"t":650,"v":36.2},{"r":27,"t":675,"v":35.7},{"r":27,"t":700,"v":36.1},{"r":27,"t":725,"v":36.5},{"r":27,"t":750,"v":36.0},{"r":27,"t":775,"v":35.5},{"r":27,"t":800,"v":35.9},{"r":27,"t":825,"v":35.4},{"r":27,"t":850,"v":35.8},{"r":27,"t":875,"v":36.2},{"r":27,"t":900,"v":36.7},{"r":27,"t":925,"v":36.2},{"r":27,"t":950,"v":35.7},{"r":27,"t":975,"v":36.1},{"r":27,"t":1000,"v":35.6},
{"r":28,"t":0,"v":34.7},{"r":28,"t":25,"v":35.2},{"r":28,"t":50,"v":35.6},{"r":28,"t":75,"v":35.1},{"r":28,"t":100,"v":35.5},{"r":28,"t":125,"v":35.0},{"r":28,"t":150,"v":34.6},{"r":28,"t":175,"v":35.0},{"r":28,"t":200,"v":34.5},{"r":28,"t":225,"v":34.9},{"r":28,"t":250,"v":35.3},{"r":28,"t":275,"v":34.8},{"r":28,"t":300,"v":34.3},{"r":28,"t":325,"v":34.7},{"r":28,"t":350,"v":35.2},{"r":28,"t":375,"v":35.6},{"r":28,"t":400,"v":35.1},{"r":28,"t":425,"v":34.6},{"r":28,"t":450,"v":35.0},{"r":28,"t":475,"v":34.5},{"r":28,"t":500,"v":34.1},{"r":28,"t":525,"v":34.5},{"r":28,"t":550,"v":34.9},{"r":28,"t":575,"v":34.4},{"r":28,"t":600,"v":34.8},{"r":28,"t":625,"v":35.3},{"r":28,"t":650,"v":34.8},{"r":28,"t":675,"v":35.2},{"r":28,"t":700,"v":34.7},{"r":28,"t":725,"v":34.3},{"r":28,"t":750,"v":34.7},{"r":28,"t":775,"v":35.1},{"r":28,"t":800,"v":34.6},{"r":28,"t":825,"v":35.0},{"r":28,"t":850,"v":35.5},{"r":28,"t":875,"v":35.0},{"r":28,"t":900,"v":34.5},{"r":28,"t":925,"v":34.9},{"r":28,"t":950,"v":34.4},{"r":28,"t":975,"v":34.8},{"r":28,"t":1000,"v":35.3},
{"r":29,"t":0,"v":35.6},{"r":29,"t":25,"v":36.0},{"r":29,"t":50,"v":35.5},{"r":29,"t":75,"v":35.9},{"r":29,"t":100,"v":36.3},{"r":29,"t":125,"v":35.8},{"r":29,"t":150,"v":35.3},{"r":29,"t":175,"v":35.7},{"r":29,"t":200,"v":36.2},{"r":29,"t":225,"v":35.7},{"r":29,"t":250,"v":36.1},{"r":29,"t":275,"v":35.6},{"r":29,"t":300,"v":35.1},{"r":29,"t":325,"v":35.5},{"r":29,"t":350,"v":35.9},{"r":29,"t":375,"v":35.4},{"r":29,"t":400,"v":35.8},{"r":29,"t":425,"v":36.3},{"r":29,"t":450,"v":35.8},{"r":29,"t":475,"v":35.3},{"r":29,"t":500,"v":35.7},{"r":29,"t":525,"v":36.2},{"r":29,"t":550,"v":35.7},{"r":29,"t":575,"v":35.2},{"r":29,"t":600,"v":35.6},{"r":29,"t":625,"v":36.1},{"r":29,"t":650,"v":36.5},{"r":29,"t":675,"v":36.0},{"r":29,"t":700,"v":35.5},{"r":29,"t":725,"v":35.9},{"r":29,"t":750,"v":35.4},{"r":29,"t":775,"v":35.8},{"r":29,"t":800,"v":36.3},{"r":29,"t":825,"v":35.8},{"r":29,"t":850,"v":35.3},{"r":29,"t":875,"v":35.7},{"r":29,"t":900,"v":35.2},{"r":29,"t":925,"v":35.6},{"r":29,"t":950,"v":36.1},{"r":29,"t":975,"v":35.6},{"r":29,"t":1000,"v":36.0},
{"r":30,"t":0,"v":33.9},{"r":30,"t":25,"v":34.3},{"r":30,"t":50,"v":34.8},{"r":30,"t":75,"v":34.3},{"r":30,"t":100,"v":33.8},{"r":30,"t":125,"v":34.2},{"r":30,"t":150,"v":34.7},{"r":30,"t":175,"v":34.2},{"r":30,"t":200,"v":33.7},{"r":30,"t":225,"v":34.1},{"r":30,"t":250,"v":34.6},{"r":30,"t":275,"v":35.0},{"r":30,"t":300,"v":34.5},{"r":30,"t":325,"v":34.0},{"r":30,"t":350,"v":34.4},{"r":30,"t":375,"v":33.9},{"r":30,"t":400,"v":34.3},{"r":30,"t":425,"v":34.8},{"r":30,"t":450,"v":34.3},{"r":30,"t":475,"v":34.7},{"r":30,"t":500,"v":35.1},{"r":30,"t":525,"v":34.6},{"r":30,"t":550,"v":34.1},{"r":30,"t":575,"v":34.5},{"r":30,"t":600,"v":34.0},{"r":30,"t":625,"v":33.6},{"r":30,"t":650,"v":34.0},{"r":30,"t":675,"v":34.5},{"r":30,"t":700,"v":34.9},{"r":30,"t":725,"v":34.4},{"r":30,"t":750,"v":33.9},{"r":30,"t":775,"v":34.3},{"r":30,"t":800,"v":34.8},{"r":30,"t":825,"v":34.3},{"r":30,"t":850,"v":34.7},{"r":30,"t":875,"v":34.2},{"r":30,"t":900,"v":33.8},{"r":30,"t":925,"v":34.2},{"r":30,"t":950,"v":34.7},{"r":30,"t":975,"v":34.2},{"r":30,"t":1000,"v":33.8},
{"r":31,"t":0,"v":35.3},{"r":31,"t":25,"v":34.9},{"r":31,"t":50,"v":35.3},{"r":31,"t":75,"v":35.8},{"r":31,"t":100,"v":35.3},{"r":31,"t":125,"v":35.7},{"r":31,"t":150,"v":36.1},{"r":31,"t":175,"v":35.6},{"r":31,"t":200,"v":35.1},{"r":31,"t":225,"v":35.5},{"r":31,"t":250,"v":35.0},{"r":31,"t":275,"v":35.4},{"r":31,"t":300,"v":35.9},{"r":31,"t":325,"v":35.4},{"r":31,"t":350,"v":34.9},{"r":31,"t":375,"v":35.3},{"r":31,"t":400,"v":35.8},{"r":31,"t":425,"v":36.2},{"r":31,"t":450,"v":35.7},{"r":31,"t":475,"v":35.2},{"r":31,"t":500,"v":34.8},{"r":31,"t":525,"v":35.2},{"r":31,"t":550,"v":35.7},{"r":31,"t":575,"v":36.1},{"r":31,"t":600,"v":35.6},{"r":31,"t":625,"v":35.1},{"r":31,"t":650,"v":35.5},{"r":31,"t":675,"v":36.0},{"r":31,"t":700,"v":35.5},{"r":31,"t":725,"v":35.0},{"r":31,"t":750,"v":35.4},{"r":31,"t":775,"v":34.9},{"r":31,"t":800,"v":35.3},{"r":31,"t":825,"v":35.8},{"r":31,"t":850,"v":36.2},{"r":31,"t":875,"v":35.7},{"r":31,"t":900,"v":35.2},{"r":31,"t":925,"v":35.6},{"r":31,"t":950,"v":35.1},{"r":31,"t":975,"v":35.5},{"r":31,"t":1000,"v":35.9},
{"r":32,"t":0,"v":35.9},{"r":32,"t":25,"v":35.5},{"r":32,"t":50,"v":35.0},{"r":32,"t":75,"v":34.6},{"r":32,"t":100,"v":35.0},{"r":32,"t":125,"v":35.5},{"r":32,"t":150,"v":35.0},{"r":32,"t":175,"v":35.4},{"r":32,"t":200,"v":35.9},{"r":32,"t":225,"v":35.4},{"r":32,"t":250,"v":34.9},{"r":32,"t":275,"v":35.3},{"r":32,"t":300,"v":34.8},{"r":32,"t":325,"v":34.4},{"r":32,"t":350,"v":34.8},{"r":32,"t":375,"v":35.3},{"r":32,"t":400,"v":34.8},{"r":32,"t":425,"v":35.2},{"r":32,"t":450,"v":35.7},{"r":32,"t":475,"v":36.1},{"r":32,"t":500,"v":35.6},{"r":32,"t":525,"v":35.1},{"r":32,"t":550,"v":35.5},{"r":32,"t":575,"v":35.0},{"r":32,"t":600,"v":34.5},{"r":32,"t":625,"v":34.9},{"r":32,"t":650,"v":35.4},{"r":32,"t":675,"v":34.9},{"r":32,"t":700,"v":34.4},{"r":32,"t":725,"v":34.8},{"r":32,"t":750,"v":35.3},{"r":32,"t":775,"v":35.7},{"r":32,"t":800,"v":35.2},{"r":32,"t":825,"v":34.7},{"r":32,"t":850,"v":35.1},{"r":32,"t":875,"v":35.6},{"r":32,"t":900,"v":35.1},{"r":32,"t":925,"v":34.6},{"r":32,"t":950,"v":35.0},{"r":32,"t":975,"v":35.5},{"r":32,"t":1000,"v":35.1}
]},
"layer":[
{"data":{"name":"runs"},"mark":{"type":"line","stroke":"#808080","strokeWidth":1.4,"clip":true},
"encoding":{
"x":{"field":"t","type":"quantitative","scale":{"domain":[0,1000],"nice":false},"axis":{"title":"time (s)","values":[0,200,400,600,800,1000],"format":"d","labelPadding":19,"titlePadding":6,"labelFlush":false}},
"y":{"field":"v","type":"quantitative","scale":{"domain":[18,40],"nice":false,"zero":false},"axis":{"title":"follower speed (m/s)","values":[20,25,30,35,40],"labelPadding":10,"titlePadding":17,"titleY":206}},
"detail":{"field":"r","type":"nominal"}}},
{"data":{"values":[{"y":35}]},"mark":{"type":"rule","stroke":"#0000FF","strokeWidth":4,"strokeDash":[17,18]},"encoding":{"y":{"field":"y","type":"quantitative"}}},
{"data":{"values":[{"y":20}]},"mark":{"type":"rule","stroke":"#FF0000","strokeWidth":4,"strokeDash":[17,18]},"encoding":{"y":{"field":"y","type":"quantitative"}}}
]
}
